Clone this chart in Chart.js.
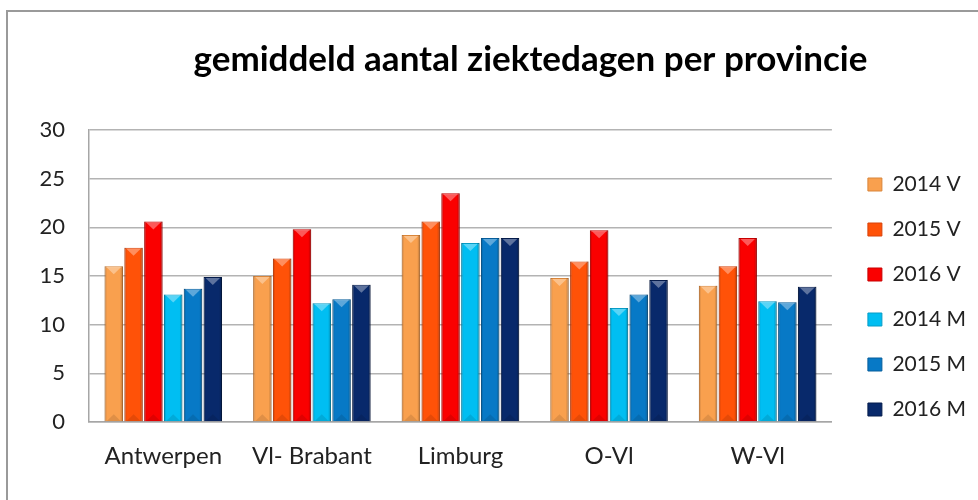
<!DOCTYPE html>
<html>
<head>
<meta charset="utf-8">
<script src="https://cdn.jsdelivr.net/npm/chart.js@4.4.1/dist/chart.umd.min.js"></script>
<style>
  html, body { margin: 0; padding: 0; background: #fff; }
  #wrap { position: relative; width: 978px; height: 500px; overflow: hidden; }
  #frame { position: absolute; left: 6px; top: 10px; width: 1000px; height: 600px;
           border-left: 2px solid #9a9a9a; border-top: 2px solid #9a9a9a; }
  canvas { position: absolute; left: 0; top: 0; }
</style>
</head>
<body>
<div id="wrap">
  <div id="frame"></div>
  <canvas id="chart" width="978" height="500"></canvas>
</div>
<script>
// data
const provinces = ['Antwerpen', 'Vl- Brabant', 'Limburg', 'O-Vl', 'W-Vl'];
const seriesNames = ['2014 V', '2015 V', '2016 V', '2014 M', '2015 M', '2016 M'];
const v2014 = [16.0, 15.0, 19.2, 14.8, 14.0];
const v2015 = [17.9, 16.8, 20.6, 16.5, 16.0];
const v2016 = [20.6, 19.8, 23.5, 19.7, 18.9];
const m2014 = [13.1, 12.2, 18.4, 11.7, 12.4];
const m2015 = [13.7, 12.6, 18.9, 13.1, 12.3];
const m2016 = [14.9, 14.1, 18.9, 14.6, 13.9];
const yTicks = [0, 5, 10, 15, 20, 25, 30];

const seriesValues = [v2014, v2015, v2016, m2014, m2015, m2016];
const seriesColors = ['#F9A04E', '#FF5208', '#FA0000', '#00BEF2', '#0779C6', '#08296B'];
const seriesBorders = ['#D9853A', '#D8430A', '#C80000', '#079CC6', '#065E9C', '#051C4C'];

const font = 'Lato, "Open Sans", sans-serif';

// 3D-ish bevel on top of each bar, like the Excel original
const bevel = {
  id: 'bevel',
  afterDatasetsDraw(chart) {
    const ctx = chart.ctx;
    chart.data.datasets.forEach((ds, i) => {
      const meta = chart.getDatasetMeta(i);
      meta.data.forEach(bar => {
        const { x, y, base, width } = bar.getProps(['x', 'y', 'base', 'width'], true);
        const l = x - width / 2, r = x + width / 2;
        ctx.save();
        const g = ctx.createLinearGradient(l, 0, r, 0);
        g.addColorStop(0, 'rgba(0,0,0,0.20)');
        g.addColorStop(0.14, 'rgba(0,0,0,0)');
        g.addColorStop(0.84, 'rgba(0,0,0,0)');
        g.addColorStop(1, 'rgba(0,0,0,0.28)');
        ctx.fillStyle = g;
        ctx.fillRect(l, y, width, base - y);
        ctx.fillStyle = 'rgba(255,255,255,0.35)';
        ctx.beginPath();
        ctx.moveTo(l + 2, y + 1);
        ctx.lineTo(r - 2, y + 1);
        ctx.lineTo(x, y + 8);
        ctx.closePath();
        ctx.fill();
        ctx.fillStyle = 'rgba(0,0,0,0.10)';
        ctx.beginPath();
        ctx.moveTo(l + 2, base);
        ctx.lineTo(r - 2, base);
        ctx.lineTo(x, base - 7);
        ctx.closePath();
        ctx.fill();
        ctx.restore();
      });
    });
  }
};

// title sits right of centre and the legend lower/righter in the original
const nudge = {
  id: 'nudge',
  afterLayout(chart) {
    chart.titleBlock.left += 97;
    const lg = chart.legend;
    lg.left += 12; lg.right += 12;
    lg.top += 47; lg.bottom += 47;
  }
};

const ctx = document.getElementById('chart').getContext('2d');
const chart = new Chart(ctx, {
  type: 'bar',
  data: {
    labels: provinces,
    datasets: seriesNames.map((name, i) => ({
      label: name,
      data: seriesValues[i],
      backgroundColor: seriesColors[i],
      borderColor: seriesBorders[i],
      borderWidth: 1,
      categoryPercentage: 0.8,
      barPercentage: 0.93
    }))
  },
  options: {
    responsive: false,
    animation: false,
    devicePixelRatio: 1,
    layout: { padding: { left: 0, right: 14, top: 0, bottom: 0 } },
    plugins: {
      title: {
        display: true,
        text: 'gemiddeld aantal ziektedagen per provincie',
        color: '#000',
        font: { family: font, size: 35, weight: 'bold' },
        padding: { top: 39, bottom: 49 }
      },
      legend: {
        position: 'right',
        labels: {
          color: '#222',
          font: { family: font, size: 21 },
          boxWidth: 14,
          boxHeight: 13,
          padding: 24
        }
      },
      tooltip: { enabled: false }
    },
    scales: {
      x: {
        grid: { display: false },
        border: { color: '#a6a6a6', width: 1.5 },
        ticks: { color: '#222', font: { family: font, size: 24 }, padding: 12, maxRotation: 0 },
        afterFit(scale) { scale.height = 78; }
      },
      y: {
        min: 0,
        max: 30,
        afterBuildTicks(scale) { scale.ticks = yTicks.map(v => ({ value: v })); },
        grid: { color: '#b3b3b3', lineWidth: 1.5, drawTicks: false },
        border: { color: '#a6a6a6', width: 1.5 },
        ticks: { color: '#222', font: { family: font, size: 22 }, padding: 24 },
        afterFit(scale) { scale.width = 89; }
      }
    }
  },
  plugins: [bevel, nudge]
});
</script>
</body>
</html>
